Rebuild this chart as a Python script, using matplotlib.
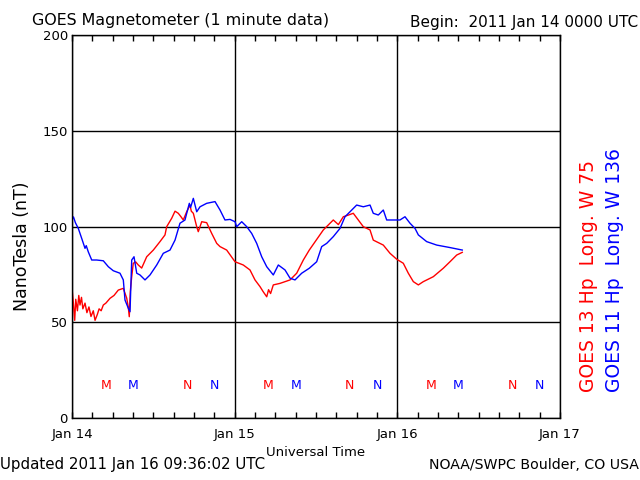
import numpy as np
import matplotlib
matplotlib.use("Agg")
import matplotlib.pyplot as plt

# hours since 2011 Jan 14 0000 UTC, nT
g13_hours = [0.0, 0.2, 0.4, 0.55, 0.8, 1.0, 1.18, 1.4, 1.6, 1.92, 2.2, 2.5, 2.8, 3.14,
             3.4, 3.73, 4.0, 4.3, 4.62, 5.0, 5.61, 6.2, 6.83, 7.57, 8.07, 8.3, 8.45,
             8.6, 8.81, 9.04, 9.4, 9.78, 10.28, 11.02, 12.0, 12.98, 13.72, 13.97,
             14.71, 15.2, 15.68, 16.1, 16.42, 16.92, 17.41, 17.6, 17.9, 18.4, 18.63,
             19.14, 19.87, 20.61, 21.35, 21.84, 22.82, 24.05, 25.27, 26.26, 27.0,
             27.74, 28.2, 28.73, 29.0, 29.3, 29.7, 30.69, 32.17, 33.15, 34.13, 35.01,
             37.08, 38.55, 39.3, 40.03, 40.8, 41.5, 42.24, 42.98, 43.97, 44.45, 45.93,
             46.92, 47.91, 48.88, 49.62, 50.36, 51.1, 51.83, 53.31, 54.78, 55.77,
             56.76, 57.58]
g13_nt = [67.7, 60.0, 51.0, 62.0, 56.0, 64.0, 59.0, 63.0, 57.0, 60.0, 55.0, 58.0,
          53.0, 56.0, 51.0, 54.0, 57.0, 56.0, 59.0, 60.0, 62.5, 64.0, 66.8, 67.7,
          62.6, 58.0, 52.9, 66.0, 73.8, 80.8, 81.5, 79.9, 78.3, 84.2, 87.7, 92.1,
          95.6, 99.9, 104.3, 108.0, 106.9, 105.0, 103.4, 107.7, 111.2, 108.0, 106.9,
          99.9, 97.3, 102.5, 102.0, 96.4, 91.2, 89.5, 87.7, 81.6, 79.9, 77.3, 72.1,
          68.6, 66.0, 63.3, 67.0, 65.0, 69.5, 70.3, 72.1, 75.6, 82.5, 87.7, 98.2,
          103.4, 101.0, 105.1, 106.0, 106.9, 103.4, 99.9, 98.2, 92.9, 90.3, 86.0,
          82.9, 80.8, 75.6, 71.2, 69.5, 71.2, 73.8, 78.2, 81.6, 85.1, 86.5]

g11_hours = [0.0, 0.22, 0.5, 0.93, 1.43, 1.92, 2.1, 2.4, 2.91, 3.64, 4.62, 5.36, 6.09,
             7.08, 7.57, 7.82, 8.31, 8.56, 8.81, 9.15, 9.55, 10.03, 10.77, 11.51,
             12.5, 13.47, 14.46, 15.2, 15.93, 16.67, 17.31, 17.5, 17.9, 18.4, 18.89,
             19.87, 21.1, 21.84, 22.57, 23.31, 24.05, 24.3, 25.04, 25.78, 26.51,
             27.25, 27.99, 28.73, 29.7, 30.44, 31.43, 32.17, 32.9, 33.89, 35.01,
             36.1, 36.84, 37.58, 38.55, 39.54, 40.28, 41.02, 42.0, 42.98, 43.97,
             44.45, 45.19, 45.93, 46.43, 47.4, 48.39, 49.13, 49.87, 50.61, 51.1,
             52.33, 53.81, 55.77, 57.58]
g11_nt = [103.4, 105.0, 102.0, 99.0, 93.8, 88.6, 90.0, 86.8, 82.5, 82.5, 82.1, 79.0,
          76.9, 75.6, 72.1, 61.6, 57.3, 55.5, 82.5, 84.2, 75.6, 74.7, 72.1, 74.7,
          79.9, 86.0, 87.7, 92.9, 101.7, 103.4, 112.1, 110.0, 114.7, 107.7, 110.3,
          112.1, 113.0, 108.6, 103.4, 103.7, 102.5, 99.9, 102.5, 99.9, 96.4, 91.2,
          84.2, 79.0, 74.7, 79.9, 77.3, 73.0, 72.1, 75.6, 78.2, 81.6, 89.5, 91.2,
          94.7, 99.0, 105.1, 107.7, 111.2, 110.3, 111.2, 106.9, 106.0, 108.6, 103.4,
          103.4, 103.4, 105.1, 101.7, 99.0, 95.6, 92.1, 90.3, 89.0, 87.7]

# local midnight (M) / noon (N) marks, hours since start
g13_m = [5, 29, 53]
g13_n = [17, 41, 65]
g11_m = [9, 33, 57]
g11_n = [21, 45, 69]

day_labels = ["Jan 14", "Jan 15", "Jan 16", "Jan 17"]
y_ticks = [0, 50, 100, 150, 200]

RED = "#ff0000"
BLUE = "#0000ff"

plt.rcParams["font.family"] = "DejaVu Sans"

fig = plt.figure(figsize=(6.4, 4.8), dpi=100)
ax = fig.add_axes([72 / 640, 62 / 480, 488 / 640, 383 / 480])

ax.plot(g13_hours, g13_nt, color=RED, lw=1.0)
ax.plot(g11_hours, g11_nt, color=BLUE, lw=1.0)

for hours, letter, color in [(g13_m, "M", RED), (g13_n, "N", RED),
                             (g11_m, "M", BLUE), (g11_n, "N", BLUE)]:
    for h in hours:
        ax.text(h, 16.8, letter, color=color, ha="center", va="center", fontsize=9)

ax.set_xlim(0, 72)
ax.set_ylim(0, 200)
ax.set_xticks(np.arange(0, 73, 24))
ax.set_xticklabels(day_labels, fontsize=9.5)
ax.set_xticks(np.arange(0, 73, 3), minor=True)
ax.set_yticks(y_ticks)
ax.set_yticklabels([str(v) for v in y_ticks], fontsize=9.5)
ax.tick_params(axis="x", which="both", direction="in", top=True, length=4, width=1, pad=7)
ax.tick_params(axis="y", length=0, pad=3)
ax.grid(True, color="black", lw=1.0)
for s in ax.spines.values():
    s.set_linewidth(1.0)

ax.set_xlabel("Universal Time", fontsize=9.5, labelpad=4)

# y label sits a bit below the axis centre in the original
fig.text(22 / 640, 1 - 246 / 480, "NanoTesla (nT)", fontsize=12.5, rotation=90,
         ha="center", va="center")

fig.text(32 / 640, 1 - 20 / 480, "GOES Magnetometer (1 minute data)", fontsize=11.4,
         ha="left", va="center")
fig.text(638 / 640, 1 - 22 / 480, "Begin:  2011 Jan 14 0000 UTC", fontsize=11,
         ha="right", va="center")
fig.text(0 / 640, 1 - 465 / 480, "Updated 2011 Jan 16 09:36:02 UTC", fontsize=10.8,
         ha="left", va="center")
fig.text(639 / 640, 1 - 465 / 480, "NOAA/SWPC Boulder, CO USA", fontsize=10.2,
         ha="right", va="center")
fig.text(589 / 640, 1 - 392 / 480, "GOES 13 Hp  Long. W 75", color=RED, fontsize=13.5,
         rotation=90, ha="center", va="bottom")
fig.text(614 / 640, 1 - 392 / 480, "GOES 11 Hp  Long. W 136", color=BLUE, fontsize=13.5,
         rotation=90, ha="center", va="bottom")

fig.savefig("out.png", dpi=100)
